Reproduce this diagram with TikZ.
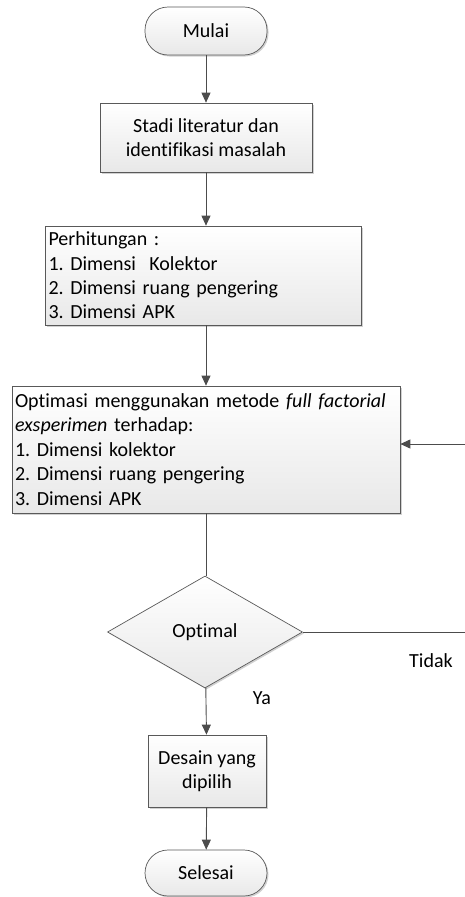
\documentclass[tikz,border=0pt]{standalone}
\usepackage{fontspec}
\setmainfont{Carlito}[Ligatures=NoCommon]
\usetikzlibrary{arrows.meta,shapes.geometric,shadows}
\frenchspacing
\tikzset{
  flowline/.style={draw=black!70, line width=0.9pt},
  flowarrow/.style={flowline, -{Triangle[length=10pt,width=9pt]}},
  boxlook/.style={draw=black!65, line width=0.7pt, top color=white, bottom color=black!9,
    drop shadow={shadow xshift=1.5pt, shadow yshift=-1.5pt, fill=black!30, opacity=0.6}},
  termbox/.style={boxlook, rectangle, rounded corners=23pt, inner sep=0pt},
  procbox/.style={boxlook, rectangle, align=center, inner sep=3pt},
  listbox/.style={boxlook, rectangle, align=left, inner sep=3pt},
  decbox/.style={boxlook, diamond, inner sep=0pt},
  tag/.style={inner sep=0pt}
}
\begin{document}
\begin{tikzpicture}[x=1pt,y=-1pt,font=\fontsize{20}{24.4}\selectfont]
\useasboundingbox (0,0) rectangle (464,897);

% Start
\node[termbox, minimum width=122pt, minimum height=48pt] (mulai) at (206,31) {Mulai};

% Literature study
\node[procbox, minimum width=212pt, minimum height=69pt] (stadi) at (206,137.5)
  {Stadi literatur dan\\identifikasi masalah};

% Calculations
\node[listbox, text width=310pt, minimum height=99pt] (hitung) at (203.5,275.5)
  {Perhitungan :\\1. Dimensi~ Kolektor\\2. Dimensi ruang pengering\\3. Dimensi APK};

% Optimisation
\node[listbox, text width=382pt, minimum height=127pt] (optim) at (206,449.5)
  {Optimasi menggunakan metode \textit{full factorial}\\\textit{exsperimen} terhadap:\\1. Dimensi kolektor\\2. Dimensi ruang pengering\\3. Dimensi APK};

% Decision
\node[decbox, minimum width=195pt, minimum height=112pt, aspect=1.74] (cek) at (205,632) {Optimal};
\node[tag] (tidak) at (431,661) {Tidak};
\node[tag] (ya) at (262,698) {Ya};

% Chosen design
\node[procbox, minimum width=118pt, minimum height=72pt] (desain) at (207,771)
  {Desain yang\\dipilih};

% End
\node[termbox, minimum width=122pt, minimum height=46pt] (selesai) at (206,873) {Selesai};

% Connectors
\coordinate (balik) at (465,444);
\draw[flowarrow] (mulai) -- (stadi);
\draw[flowarrow] (stadi) -- (stadi.south |- hitung.north);
\draw[flowarrow] (stadi.south |- hitung.south) -- (optim.north -| stadi.south);
\draw[flowline] (optim.south -| stadi.south) -- (cek.north -| stadi.south);
\draw[flowarrow] (cek) -- (desain);
\draw[flowarrow] (desain) -- (selesai);
\draw[flowarrow] (cek.east) -| (balik) -- (balik -| optim.east);
\end{tikzpicture}
\end{document}
